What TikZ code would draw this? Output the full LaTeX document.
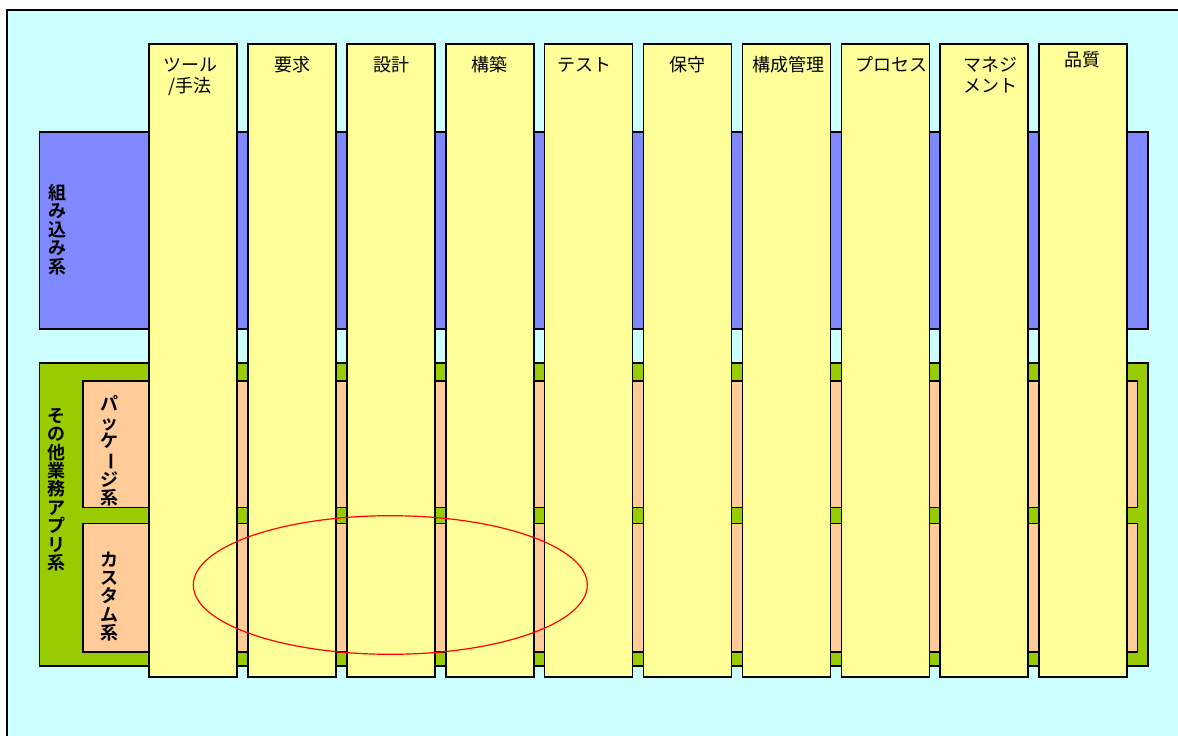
\documentclass[tikz,border=0pt]{standalone}
\usepackage{fontspec}
\newfontfamily\jp{Noto Sans CJK JP}
\newfontfamily\jpb{Noto Sans CJK JP Bold}
\definecolor{bgc}{HTML}{CCFFFF}
\definecolor{colc}{HTML}{FFFF99}
\definecolor{bluec}{HTML}{7F88FF}
\definecolor{greenc}{HTML}{99CC00}
\definecolor{orangec}{HTML}{FFCC99}
\newcommand{\vbar}{\rotatebox[origin=c]{-90}{ー}}
\tikzset{
  band/.style={draw=black,line width=1.6pt},
  colbox/.style={draw=black,line width=1.6pt,fill=colc},
  head/.style={font={\jp\fontsize{18}{21}\selectfont},inner sep=0pt,anchor=base,align=center},
  vlabel/.style={font={\jpb\fontsize{18}{18.4}\selectfont},inner sep=0pt,align=center},
}
\begin{document}
\begin{tikzpicture}[x=1pt,y=-1pt]
\useasboundingbox (0,0) rectangle (1178,736);
\clip (0,0) rectangle (1178,736);
% background
\fill[bgc] (7,10) rectangle (1200,760);
\draw[line width=1.4pt] (7,760) -- (7,10) -- (1200,10);
% bands
\path[band,fill=bluec] (39.3,132) rectangle (1148,329);
\node[vlabel] (emb) at (57,229.5) {組\\み\\込\\み\\系};
\path[band,fill=greenc] (39.3,362.7) rectangle (1148,665.7);
\node[vlabel] (oth) at (56,489.5) {そ\\の\\他\\業\\務\\ア\\プ\\リ\\系};
\path[band,fill=orangec] (82.7,380.7) rectangle (1137.3,507.5);
\node[vlabel] (pkg) at (109,451) {パ\\ッ\\ケ\\\vbar\\ジ\\系};
\path[band,fill=orangec] (82.7,523.3) rectangle (1137.3,651.7);
\node[vlabel] (cus) at (109,596.5) {カ\\ス\\タ\\ム\\系};
% columns
\foreach \i in {0,...,9}{
  \path[colbox] ({149+98.9*\i},43.7) rectangle ({149+98.9*\i+88},677) coordinate (c\i);
}
% headers
\node[head] (h1) at (190,92.5) {ツール\\/手法};
\node[head] (h2) at (292,71.5) {要求};
\node[head] (h3) at (391,71.5) {設計};
\node[head] (h4) at (489.5,71.5) {構築};
\node[head] (h5) at (584,71.5) {テスト};
\node[head] (h6) at (687,71.5) {保守};
\node[head] (h7) at (788,71.5) {構成管理};
\node[head] (h8) at (891,71.5) {プロセス};
\node[head] (h9) at (990,92.5) {マネジ\\メント};
\node[head] (h10) at (1082.5,66.5) {品質};
% ellipse
\draw[red,line width=1.2pt] (390.3,585) ellipse [x radius=197,y radius=69.3];
\end{tikzpicture}
\end{document}
